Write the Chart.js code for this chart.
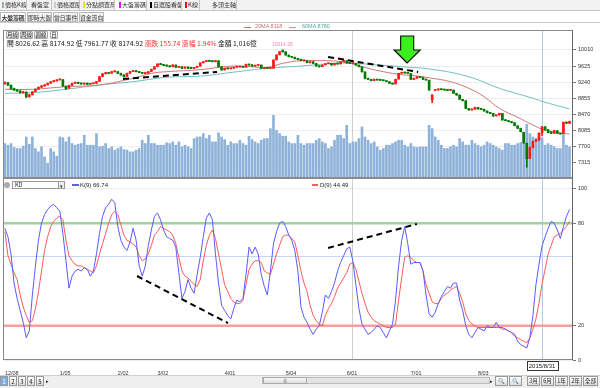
<!DOCTYPE html>
<html>
<head>
<meta charset="utf-8">
<script src="https://cdn.jsdelivr.net/npm/chart.js@4.4.1/dist/chart.umd.min.js"></script>
<style>
body{margin:0;width:600px;height:388px;overflow:hidden;background:#fff;position:relative;font-family:"Noto Sans CJK TC","Noto Sans",sans-serif;color:#222}
.abs{position:absolute;white-space:nowrap}
canvas{position:absolute;left:0;z-index:1}
.ov{z-index:3}
.t1{position:absolute;z-index:4;top:0;height:10px;font-size:6px;line-height:10px;border-right:1px solid #c4c4c4;box-sizing:border-box;padding-left:2px;color:#333;white-space:nowrap;overflow:hidden}
.t1 i{display:inline-block;width:2px;height:6px;margin-right:1px;vertical-align:-1px}
.t2{position:absolute;top:12px;height:10px;font-size:5.8px;line-height:9px;border:1px solid #b8b8b8;box-sizing:border-box;text-align:center;background:#f2f2f2;color:#333;white-space:nowrap;overflow:hidden}
.btn{position:absolute;top:31px;height:8px;font-size:5.5px;line-height:7px;border:1px solid #a8a8a8;box-sizing:border-box;text-align:center;background:linear-gradient(#fff,#ddd);color:#222;border-radius:1px;white-space:nowrap;overflow:hidden}
.pg{position:absolute;top:376px;height:10px;width:8px;font-size:6px;line-height:9px;border:1px solid #999;box-sizing:border-box;text-align:center;background:linear-gradient(#fff,#ddd)}
.zb{position:absolute;top:376px;height:10px;font-size:5.5px;line-height:9px;border:1px solid #999;box-sizing:border-box;text-align:center;background:linear-gradient(#fff,#ddd);white-space:nowrap;overflow:hidden}
</style>
</head>
<body>
<canvas id="main" width="600" height="164" style="top:22px"></canvas>
<canvas id="kd" width="600" height="208" style="top:170px"></canvas>

<div class="abs ov" style="left:0;top:0;width:600px;height:10px;background:#f2f2f2;border-bottom:1px solid #c4c4c4"></div>
<div class="t1" style="left:0;width:27px"><i style="background:#9ab"></i>價格K線</div>
<div class="t1" style="left:27px;width:25px;padding-left:4px">看盤室</div>
<div class="t1" style="left:52px;width:28px"><i style="background:#ccc"></i>價格選股</div>
<div class="t1" style="left:80px;width:35px;padding-left:3px"><i style="background:#f2e200"></i>分點調查局</div>
<div class="t1" style="left:115px;width:32px;background:#fff;padding-left:4px"><i style="background:#f0f"></i>大盤籌碼</div>
<div class="t1" style="left:147px;width:35px;padding-left:3px"><i style="background:#000"></i>自選股看盤</div>
<div class="t1" style="left:182px;width:18px;padding-left:3px"><i style="background:#f00"></i>K線</div>
<div class="t1" style="left:200px;width:37px;padding-left:12px">多頭主軸</div>
<div class="abs ov" style="left:0;top:22px;width:600px;height:0;border-top:1px solid #c8c8c8"></div>
<div class="t2 ov" style="left:0;width:26px;background:#fff;font-weight:bold">大盤籌碼</div>
<div class="t2 ov" style="left:27px;width:25px">即時大盤</div>
<div class="t2 ov" style="left:53px;width:25px">當日事件</div>
<div class="t2 ov" style="left:79px;width:25px">資金流向</div>

<!-- legend -->
<div class="abs ov" style="left:244px;top:27px;width:7px;height:1px;background:#c87070"></div>
<div class="abs ov" style="left:255px;top:23px;font-size:5.5px;color:#c87070;font-family:'Liberation Sans'">20MA 8118</div>
<div class="abs ov" style="left:289px;top:27px;width:7px;height:1px;background:#60bcb8"></div>
<div class="abs ov" style="left:302px;top:23px;font-size:5.5px;color:#4aaaa6;font-family:'Liberation Sans'">60MA 8780</div>

<div class="btn ov" style="left:6px;width:13px">月線</div>
<div class="btn ov" style="left:20px;width:13px">周線</div>
<div class="btn ov" style="left:34px;width:14px">週線</div>
<div class="btn ov" style="left:50px;width:8px">日</div>

<div class="abs ov" style="left:7px;top:39px;font-size:6.8px;line-height:9px">開 8026.62 高 8174.92 低 7961.77 收 8174.92 <span style="color:#f33">漲跌 155.74 漲幅 1.94%</span> 金額 1,016億</div>
<div class="abs ov" style="left:272px;top:41px;font-size:5px;color:#f58aa8;font-family:'Liberation Sans'">10014.28</div>

<!-- kd header -->
<div class="abs ov" style="left:4px;top:182px;width:6px;height:6px;border-radius:3px;background:#aaa"></div>
<div class="abs ov" style="left:12px;top:181px;width:53px;height:8px;border:1px solid #999;box-sizing:border-box;background:#fff;font-size:5.5px;line-height:7px;padding-left:2px">KD</div>
<div class="abs ov" style="left:58px;top:181px;width:7px;height:8px;border:1px solid #999;box-sizing:border-box;background:#eee;font-size:5px;line-height:7px;text-align:center">▾</div>
<div class="abs ov" style="left:72px;top:184px;width:7px;height:2px;background:#5a5aff"></div>
<div class="abs ov" style="left:80px;top:181px;font-size:6px;line-height:8px;font-family:'Liberation Sans'">K(9) 66.74</div>
<div class="abs ov" style="left:312px;top:184px;width:6px;height:2px;background:#ff5a5a"></div>
<div class="abs ov" style="left:320px;top:181px;font-size:6px;line-height:8px;font-family:'Liberation Sans'">D(9) 44.49</div>

<!-- bottom toolbar -->
<div class="abs" style="left:0;top:375px;width:600px;height:13px;background:#efefef;border-top:1px solid #d0d0d0"></div>
<div class="pg ov" style="left:0;background:#7aaee8;color:#fff">1</div>
<div class="pg ov" style="left:9px">2</div>
<div class="pg ov" style="left:18px">3</div>
<div class="pg ov" style="left:27px">4</div>
<div class="pg ov" style="left:36px">5</div>
<div class="abs ov" style="left:46px;top:377px;font-size:5px">▸</div>
<div class="abs ov" style="left:262px;top:377px;width:228px;height:7px;border:1px solid #bbb;box-sizing:border-box;background:#e4e4e4"></div>
<div class="abs ov" style="left:263px;top:377px;width:44px;height:7px;border:1px solid #aaa;box-sizing:border-box;background:linear-gradient(#fafafa,#ddd);font-size:4px;line-height:5px;text-align:center">|||</div>
<div class="abs ov" style="left:490px;top:377px;font-size:5px">▸</div>
<div class="zb ov" style="left:495px;width:13px">🔍</div>
<div class="zb ov" style="left:509px;width:13px">🔍</div>
<div class="zb ov" style="left:527px;width:13px">3月</div>
<div class="zb ov" style="left:541px;width:13px">6月</div>
<div class="zb ov" style="left:555px;width:13px">1年</div>
<div class="zb ov" style="left:569px;width:13px">2年</div>
<div class="zb ov" style="left:583px;width:15px">全部</div>

<script>
// harga harian (index 0 = 2014/12/08)
const open = [
9200,9225,9165,9085,9045,9030,8985,9000,8895,8940,
9015,9075,9120,9150,9178,9215,9255,9272,9295,9300,
9140,9095,9165,9215,9235,9210,9195,9215,9190,9205,
9215,9260,9375,9442,9465,9455,9490,9490,9450,9410,
9380,9455,9495,9512,9490,9468,9450,9455,9495,9552,
9615,9678,9662,9642,9625,9612,9648,9598,9608,9575,
9602,9575,9570,9592,9625,9705,9733,9758,9742,9733,
9750,9605,9535,9575,9562,9575,9598,9602,9612,9600,
9670,9652,9625,9642,9648,9570,9582,9570,9575,9775,
9895,9975,9965,9885,9852,9832,9802,9785,9752,9752,
9705,9728,9688,9625,9612,9655,9682,9690,9655,9690,
9678,9733,9752,9702,9688,9690,9648,9605,9485,9330,
9305,9278,9305,9290,9282,9272,9250,9210,9200,9315,
9455,9470,9462,9445,9305,9335,9368,9352,9305,9285,
8820,9040,9055,9072,9058,9055,9045,9050,8970,8930,
8828,8795,8610,8578,8595,8635,8598,8590,8548,8508,
8492,8435,8458,8490,8332,8318,8292,8270,8195,8132,
8040,7780,7415,7680,7830,7858,8027,8170,8095,8030,
8020,8075,8015,8017,8270,8255];
const high = [
9250,9235,9175,9100,9060,9040,9020,9010,8950,9020,
9080,9125,9160,9185,9220,9258,9275,9300,9315,9305,
9150,9170,9220,9245,9240,9220,9220,9222,9210,9220,
9260,9380,9450,9475,9475,9500,9510,9495,9460,9420,
9460,9500,9525,9520,9495,9475,9460,9495,9555,9615,
9680,9690,9670,9650,9630,9660,9655,9615,9612,9605,
9610,9582,9595,9625,9705,9740,9762,9765,9750,9760,
9755,9615,9580,9580,9578,9600,9605,9615,9618,9672,
9675,9658,9645,9655,9652,9585,9590,9578,9775,9895,
9975,10014,9970,9890,9860,9838,9805,9790,9760,9758,
9735,9732,9690,9630,9655,9685,9695,9695,9695,9695,
9735,9760,9755,9705,9695,9693,9650,9605,9490,9340,
9310,9312,9308,9295,9288,9275,9252,9215,9312,9455,
9475,9478,9465,9448,9340,9375,9375,9358,9310,9288,
8940,9060,9080,9078,9062,9058,9060,9052,8975,8935,
8830,8800,8612,8595,8642,8640,8602,8595,8552,8512,
8495,8460,8500,8492,8338,8322,8295,8272,8198,8140,
8040,7780,7685,7830,7880,8030,8175,8180,8110,8060,
8090,8080,8020,8290,8290,8310];
const low = [
9190,9160,9070,9040,9020,8980,8980,8870,8880,8930,
9010,9065,9110,9140,9170,9210,9245,9265,9290,9140,
9060,9090,9160,9205,9205,9190,9190,9180,9185,9200,
9210,9255,9370,9435,9440,9450,9480,9445,9405,9360,
9375,9450,9490,9485,9465,9445,9440,9450,9490,9545,
9605,9655,9635,9620,9600,9605,9590,9590,9565,9570,
9565,9565,9562,9585,9620,9698,9728,9735,9725,9725,
9605,9525,9530,9555,9558,9570,9592,9598,9590,9598,
9645,9620,9620,9635,9565,9565,9568,9565,9570,9770,
9890,9955,9885,9845,9828,9795,9780,9750,9745,9700,
9700,9685,9620,9600,9608,9650,9678,9645,9650,9668,
9672,9725,9695,9685,9682,9645,9605,9480,9320,9300,
9268,9272,9285,9280,9270,9248,9205,9190,9195,9310,
9450,9455,9445,9300,9298,9328,9348,9302,9285,9045,
8750,9035,9050,9055,9048,9040,9040,8970,8925,8825,
8790,8605,8568,8572,8590,8595,8585,8545,8505,8488,
8425,8430,8450,8330,8315,8290,8265,8195,8130,8050,
7780,7203,7410,7670,7825,7850,7962,8090,8025,8010,
8015,8010,7995,8010,8250,8250];
const close = [
9230,9170,9080,9050,9030,8990,9005,8890,8935,9010,
9070,9118,9150,9175,9213,9250,9270,9292,9307,9150,
9090,9160,9213,9237,9213,9197,9213,9189,9200,9213,
9252,9371,9440,9467,9452,9491,9495,9452,9412,9371,
9452,9491,9515,9491,9470,9452,9452,9491,9548,9610,
9675,9660,9640,9627,9610,9651,9596,9610,9572,9600,
9572,9572,9590,9620,9700,9731,9755,9740,9731,9755,
9610,9532,9572,9560,9572,9596,9600,9610,9596,9668,
9650,9627,9640,9651,9572,9580,9572,9572,9771,9890,
9970,9969,9890,9850,9835,9800,9787,9755,9755,9707,
9731,9691,9627,9610,9651,9680,9691,9651,9691,9675,
9731,9755,9700,9691,9691,9651,9610,9491,9333,9309,
9276,9309,9292,9285,9276,9252,9213,9197,9309,9452,
9467,9460,9452,9309,9333,9371,9355,9309,9292,9053,
8934,9053,9070,9060,9053,9045,9053,8974,8934,8831,
8798,8615,8575,8591,8639,8600,8591,8551,8511,8495,
8431,8455,8495,8336,8320,8296,8272,8200,8137,8056,
7786,7410,7676,7824,7853,8019,8175,8097,8033,8017,
8079,8017,8001,8280,8260,8300];

// nilai transaksi (億)
const volume = [
873,831,873,772,747,747,806,1041,856,1041,
747,663,789,537,369,747,663,554,1041,1024,
915,1041,873,831,856,873,1083,831,831,831,
1125,789,806,873,747,789,705,747,789,722,
705,663,663,705,747,957,873,1083,873,873,
831,831,831,890,873,915,831,915,789,831,
789,747,999,1041,1041,1125,999,1083,915,915,
1142,1041,974,831,915,873,873,957,873,831,
1058,974,915,873,957,999,1000,1251,1587,1209,
1125,1058,1058,915,873,873,1083,873,831,873,
873,873,957,999,915,873,747,789,957,1083,
1083,1000,1335,873,915,915,1000,1293,1041,957,
873,915,789,705,747,831,831,873,915,957,
957,831,789,873,789,772,789,789,789,1335,
1251,1041,957,831,747,747,789,831,789,999,
915,831,831,957,873,831,789,831,915,873,
831,789,747,705,873,873,831,831,873,900,
1167,1360,1125,1041,999,1041,1016,831,873,831,
789,747,747,1125,831,789];

// moving average (dibaca per beberapa hari)
const ma20Idx = [0,9,20,31,42,48,53,64,75,86,91,97,102,108,113,119,124,130,135,140,146,152,157,162,168,173,176,181,185];
const ma20 = [9070,9070,9132,9173,9333,9452,9491,9540,9627,9596,9691,9755,9755,9747,9691,9572,9491,9420,9388,9333,9252,9094,8893,8615,8400,8216,8118,8033,8001];
const ma60Idx = [0,9,20,31,42,53,64,75,86,97,108,114,130,140,152,162,173,176,185];
const ma60 = [8974,8989,9070,9173,9252,9357,9385,9480,9572,9627,9691,9691,9610,9548,9371,9094,8855,8780,8599];

// KD(9)
const kValue = [
77,72,62,45,36,29,22,13,17,38,
55,70,80,85,88,90,91,89,87,74,
58,42,49,52,53,52,54,53,49,52,
62,74,84,89,91,94,92,78,70,66,
64,69,77,70,55,49,55,67,76,84,
86,82,76,72,71,70,66,51,36,40,
47,42,39,50,60,72,83,86,82,62,
45,32,29,26,24,30,35,34,36,50,
66,62,66,62,50,43,38,52,68,75,
80,81,78,73,70,64,52,31,25,22,
18,15,18,20,28,38,36,40,45,52,
57,61,65,66,58,44,30,21,18,15,
16,18,20,19,16,13,17,21,35,55,
70,78,68,56,57,57,57,52,38,27,
25,28,33,37,40,43,42,45,45,35,
29,20,15,13,16,19,18,17,20,19,
19,22,19,19,18,17,16,15,11,9,
8,7,13,26,44,56,66.74,72,77,81,
80,76,71,78,84,88];
const dValue = [
75,61,56,51,47,38,31,26,22,23,
30,40,52,64,72,78,81,83,84,82,
70,61,58,56,55,55,54,53,52,51,
55,62,68,74,80,85,87,85,79,73,
70,69,68,66,61,58,59,62,67,73,
75,78,77,76,75,73,68,60,52,49,
48,46,44,43,47,58,67,73,76,71,
62,53,44,40,36,34,33,33,35,44,
53,56,58,58,57,52,51,50,56,62,
67,72,73,73,71,69,61,52,45,40,
32,26,23,21,20,26,30,33,37,42,
45,48,51,56,57,53,46,39,33,28,
25,23,22,21,20,19,19,19,21,35,
48,60,61,60,58,57,57,52,44,39,
34,33,33,36,38,39,41,42,43,39,
34,27,23,21,20,19,19,19,19,19,
19,19,19,18,18,17,16,14,13,12,
11,10,13,18,24,33.4,44.49,53,62,67,
72,73,74,76,78,81];

// sumbu
const priceTicks = [10010,9625,9240,8855,8470,8085,7700,7315];
const kdTicks = [0,20,80,100];
const dateTickIdx = [0,18,37,50,72,92,112,133,155];
const dateLabels = [['12/08','2014'],['1/05','2015'],['2/02'],['3/02'],['4/01'],['5/04'],['6/01'],['7/01'],['8/03']];
const kdLevels = [80, 20];

// garis coretan di gambar
const priceTrend1 = [[38.7, 9316], [69.5, 9484]];
const priceTrend2 = [[105.9, 9843], [135.4, 9484]];
const kdTrend1 = [[43.3, 49.1], [73.1, 21.6]];
const kdTrend2 = [[105.9, 65.5], [135.0, 79.5]];
const arrowAt = [131.8, 9699];

const cursorIdx = 176;
const cursorLabel = '2015/8/31';
const cursorKd = 60.8;
const markIdx = 113.7;

const xMin = -0.62, xMax = 186.14;

Chart.defaults.font.family = 'Liberation Sans';
Chart.defaults.font.size = 6;

const idx = close.map((c, i) => i);
const candleColor = idx.map(i => close[i] >= open[i] ? '#ff1a1a' : '#007a00');

const framePlugin = {
    id: 'frame',
    afterDraw(chart) {
        const {ctx, chartArea: a} = chart;
        ctx.save();
        ctx.strokeStyle = '#8a8a8a';
        ctx.lineWidth = 1;
        ctx.strokeRect(a.left + 0.5, a.top + 0.5, a.right - a.left - 1, a.bottom - a.top - 1);
        ctx.strokeStyle = '#666';
        ctx.beginPath();
        ctx.moveTo(a.right - 0.5, a.top);
        ctx.lineTo(a.right - 0.5, a.bottom);
        ctx.stroke();
        ctx.restore();
    }
};

const vlinePlugin = {
    id: 'vlines',
    beforeDatasetsDraw(chart) {
        const {ctx, chartArea: a, scales} = chart;
        ctx.save();
        [[markIdx, '#cfcfcf'], [cursorIdx, '#b6c9e8']].forEach(([v, c]) => {
            const px = Math.round(scales.x.getPixelForValue(v)) + 0.5;
            ctx.strokeStyle = c;
            ctx.lineWidth = 1;
            ctx.beginPath();
            ctx.moveTo(px, a.top);
            ctx.lineTo(px, a.bottom);
            ctx.stroke();
        });
        ctx.restore();
    }
};

const kdLinePlugin = {
    id: 'kdlines',
    beforeDatasetsDraw(chart) {
        const {ctx, chartArea: a, scales} = chart;
        ctx.save();
        const colors = ['#9ed29e', '#ff9c9c'];
        kdLevels.forEach((v, k) => {
            const py = scales.y.getPixelForValue(v);
            ctx.strokeStyle = colors[k];
            ctx.lineWidth = 2.5;
            ctx.beginPath();
            ctx.moveTo(a.left, py);
            ctx.lineTo(a.right, py);
            ctx.stroke();
        });
        const cy = Math.round(scales.y.getPixelForValue(cursorKd)) + 0.5;
        ctx.strokeStyle = '#c6d7f0';
        ctx.lineWidth = 1;
        ctx.beginPath();
        ctx.moveTo(a.left, cy);
        ctx.lineTo(a.right, cy);
        ctx.stroke();
        ctx.restore();
    },
    afterDraw(chart) {
        // kotak tanggal kursor
        const {ctx, chartArea: a, scales} = chart;
        const px = scales.x.getPixelForValue(cursorIdx);
        ctx.save();
        ctx.font = '6px "Liberation Sans"';
        const w = ctx.measureText(cursorLabel).width + 4;
        ctx.fillStyle = '#fff';
        ctx.fillRect(px - w / 2, a.bottom + 1, w, 9);
        ctx.strokeStyle = '#333';
        ctx.lineWidth = 1;
        ctx.strokeRect(Math.round(px - w / 2) + 0.5, a.bottom + 1.5, Math.round(w), 9);
        ctx.fillStyle = '#222';
        ctx.textAlign = 'center';
        ctx.textBaseline = 'middle';
        ctx.fillText(cursorLabel, px, a.bottom + 6.5);
        ctx.restore();
    }
};

const arrowPlugin = {
    id: 'arrow',
    afterDatasetsDraw(chart) {
        const {ctx, scales} = chart;
        const tx = scales.x.getPixelForValue(arrowAt[0]);
        const ty = scales.y.getPixelForValue(arrowAt[1]);
        ctx.save();
        ctx.beginPath();
        ctx.moveTo(tx, ty);
        ctx.lineTo(tx - 13, ty - 13);
        ctx.lineTo(tx - 6.5, ty - 13);
        ctx.lineTo(tx - 6.5, ty - 27);
        ctx.lineTo(tx + 6.5, ty - 27);
        ctx.lineTo(tx + 6.5, ty - 13);
        ctx.lineTo(tx + 13, ty - 13);
        ctx.closePath();
        ctx.fillStyle = '#3cf01e';
        ctx.fill();
        ctx.strokeStyle = '#111';
        ctx.lineWidth = 1.2;
        ctx.stroke();
        ctx.restore();
    }
};

function trendSet(points, axis) {
    return {
        type: 'line',
        data: points.map(p => ({x: p[0], y: p[1]})),
        borderColor: '#000',
        borderWidth: 2,
        borderDash: [6, 4],
        pointRadius: 0,
        yAxisID: axis,
        order: 0
    };
}

// panel harga + volume
new Chart(document.getElementById('main'), {
    type: 'bar',
    data: {
        datasets: [
            {
                type: 'bar',
                data: idx.map(i => ({x: i, y: volume[i]})),
                yAxisID: 'yv',
                backgroundColor: '#8fb2d9',
                barThickness: 2,
                grouped: false,
                order: 10
            },
            {
                type: 'line',
                data: ma20Idx.map((x, k) => ({x: x, y: ma20[k]})),
                borderColor: '#cc7777',
                borderWidth: 1,
                pointRadius: 0,
                tension: 0.4,
                yAxisID: 'y',
                order: 5
            },
            {
                type: 'line',
                data: ma60Idx.map((x, k) => ({x: x, y: ma60[k]})),
                borderColor: '#6cc2be',
                borderWidth: 1,
                pointRadius: 0,
                tension: 0.4,
                yAxisID: 'y',
                order: 5
            },
            {
                type: 'bar',
                data: idx.map(i => ({x: i, y: [low[i], high[i]]})),
                backgroundColor: candleColor,
                barThickness: 1,
                grouped: false,
                yAxisID: 'y',
                order: 3
            },
            {
                type: 'bar',
                data: idx.map(i => ({x: i, y: [open[i], close[i]]})),
                backgroundColor: candleColor,
                barThickness: 2,
                minBarLength: 1,
                grouped: false,
                yAxisID: 'y',
                order: 2
            },
            trendSet(priceTrend1, 'y'),
            trendSet(priceTrend2, 'y')
        ]
    },
    options: {
        responsive: false,
        animation: false,
        layout: {padding: {left: 3, top: 8, bottom: 8, right: 0}},
        plugins: {legend: {display: false}, tooltip: {enabled: false}},
        scales: {
            x: {type: 'linear', min: xMin, max: xMax, offset: false, display: false},
            y: {
                position: 'right',
                min: 6948,
                max: 10488,
                afterBuildTicks: s => { s.ticks = priceTicks.map(v => ({value: v})); },
                afterFit: s => { s.width = 27; },
                ticks: {color: '#333', padding: 2, font: {size: 5.5}, callback: v => String(v)},
                grid: {color: '#eeeeee', tickColor: '#777', tickLength: 3},
                border: {display: false}
            },
            yv: {display: false, min: 0, max: 3750}
        }
    },
    plugins: [vlinePlugin, arrowPlugin, framePlugin]
});

// panel KD
new Chart(document.getElementById('kd'), {
    type: 'line',
    data: {
        datasets: [
            {
                data: idx.map(i => ({x: i, y: kValue[i]})),
                borderColor: '#5a5aff',
                borderWidth: 1,
                pointRadius: 0,
                order: 2
            },
            {
                data: idx.map(i => ({x: i, y: dValue[i]})),
                borderColor: '#ff5a5a',
                borderWidth: 1,
                pointRadius: 0,
                order: 3
            },
            trendSet(kdTrend1, 'y'),
            trendSet(kdTrend2, 'y')
        ]
    },
    options: {
        responsive: false,
        animation: false,
        layout: {padding: {left: 3, top: 8, bottom: 0, right: 0}},
        plugins: {legend: {display: false}, tooltip: {enabled: false}},
        scales: {
            x: {
                type: 'linear',
                min: xMin,
                max: xMax,
                afterBuildTicks: s => { s.ticks = dateTickIdx.map(v => ({value: v})); },
                afterFit: s => { s.height = 18; },
                ticks: {
                    autoSkip: false,
                    maxRotation: 0,
                    align: 'start',
                    padding: 2,
                    color: '#333',
                    font: {size: 5.5, lineHeight: 1.25},
                    callback: (v, i) => dateLabels[i]
                },
                grid: {display: false},
                border: {display: false}
            },
            y: {
                position: 'right',
                min: 0,
                max: 106.4,
                afterBuildTicks: s => { s.ticks = kdTicks.map(v => ({value: v})); },
                afterFit: s => { s.width = 27; },
                ticks: {color: '#333', padding: 2, font: {size: 5.5}},
                grid: {color: '#eeeeee', tickColor: '#777', tickLength: 3},
                border: {display: false}
            }
        }
    },
    plugins: [vlinePlugin, kdLinePlugin, framePlugin]
});
</script>
</body>
</html>
